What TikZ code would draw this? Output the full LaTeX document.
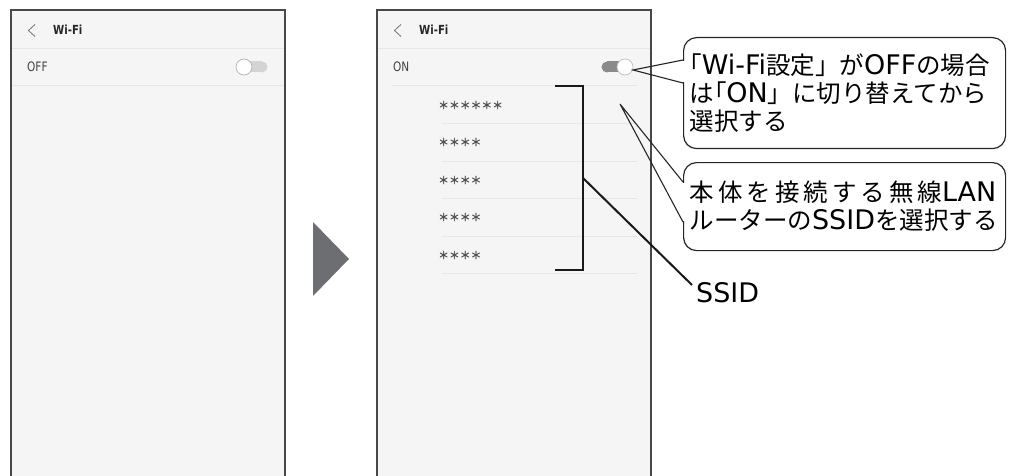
\documentclass[tikz,border=0pt]{standalone}
\usepackage{fontspec}
\usepackage{xcolor}
\usepackage{tikz}
\usetikzlibrary{calc}
\newfontfamily\jpfont{Noto Sans CJK JP}
\newfontfamily\jppfont[CharacterWidth=AlternateProportional]{Noto Sans CJK JP}
\newfontfamily\starfont[FakeBold=1.6]{Noto Sans CJK JP}
\newfontfamily\latfont[Scale=1.1]{DejaVu Sans}
\newfontfamily\uifont[FakeStretch=0.9]{DejaVu Sans Condensed}
\newcommand\lat[1]{{\latfont #1}}
\newcommand\obr{{\jppfont 「}}
\newcommand\jgap{\hspace{4pt}}
\definecolor{screenbg}{RGB}{245,245,245}
\definecolor{screenedge}{RGB}{72,72,72}
\definecolor{rulegr}{RGB}{230,230,230}
\definecolor{arrowgr}{RGB}{109,110,113}
\definecolor{trackoff}{RGB}{212,212,212}
\definecolor{trackon}{RGB}{138,138,138}
\definecolor{stargr}{RGB}{80,80,80}
\tikzset{
  screen/.style={fill=screenbg, draw=screenedge, line width=1.6pt},
  rowrule/.style={draw=rulegr, line width=0.9pt},
  backmark/.style={draw=black!55, line width=0.8pt},
  titlelabel/.style={font=\uifont\bfseries\fontsize{12.5}{14}\selectfont, text=black!85, inner sep=0pt, anchor=west},
  uilabel/.style={font=\uifont\fontsize{13}{15}\selectfont, text=black!75, inner sep=0pt, anchor=west},
  starrow/.style={font=\starfont\fontsize{10.8}{12}\selectfont, text=stargr, inner sep=0pt, anchor=west},
  callout/.style={draw=black!85, fill=white, line width=1.2pt, rounded corners=13pt, anchor=north west,
    font=\jpfont\fontsize{24.5}{28}\selectfont, align=left, inner xsep=6pt},
  pointer/.style={draw=black!85, line width=1.1pt},
  bracketline/.style={draw=black!90, line width=2.6pt},
  leader/.style={draw=black!90, line width=2pt},
}
\begin{document}
\begin{tikzpicture}[x=1pt, y=-1pt]
    \useasboundingbox (0,0) rectangle (1009,476);

    % Screen before
    \fill[screenbg] (11,10) rectangle (285,480);
    \draw[screen, fill=none] (11,480) -- (11,10) -- (285,10) -- (285,480);
    \draw[rowrule] (12,48) -- (284,48);
    \draw[rowrule] (12,85) -- (284,85);
    \draw[backmark] (35,24.5) -- (28.5,30.5) -- (35,36.5);
    \node[titlelabel] (titleoff) at (53,30) {Wi-Fi};
    \node[uilabel] (stateoff) at (27,67) {OFF};
    \fill[trackoff] (243,61.5) rectangle (262,72.5);
    \fill[trackoff] (262,67) circle (5.5);
    \draw[fill=white, draw=black!30, line width=0.7pt] (244,67) circle (8);

    % Step arrow
    \fill[arrowgr] (313,222) -- (349,259) -- (313,296) -- cycle;

    % Screen after
    \fill[screenbg] (377,10) rectangle (651,480);
    \draw[screen, fill=none] (377,480) -- (377,10) -- (651,10) -- (651,480);
    \draw[rowrule] (378,48) -- (650,48);
    \draw[rowrule] (392,85) -- (637,85);
    \foreach \y in {123,161,198,236,273}
      \draw[rowrule] (442,\y) -- (637,\y);
    \draw[backmark] (401,24.5) -- (394.5,30.5) -- (401,36.5);
    \node[titlelabel] (titleon) at (419,30) {Wi-Fi};
    \node[uilabel] (stateon) at (393,67) {ON};
    \fill[trackon] (607,61.5) rectangle (625,72.5);
    \fill[trackon] (607,67) circle (5.5);
    \draw[fill=white, draw=black!25, line width=0.7pt] (625,67) circle (8);
    \coordinate (knob) at (633,70);

    % SSID list
    \node[starrow] (ssid1) at (438,105) {＊＊＊＊＊＊};
    \foreach \y [count=\i from 2] in {142,180,217,255}
      \node[starrow] (ssid\i) at (438,\y) {＊＊＊＊};

    % Bracket
    \draw[bracketline] (555,86) -- (583,86) -- (583,270) -- (555,270);
    \coordinate (brk) at (583,178);

    % Callouts
    \node[callout, minimum width=322pt, minimum height=111pt, text width=310pt] (note1) at (683,37)
      {\obr\lat{Wi-Fi}設定」が\lat{OFF}の場合\\は\obr\lat{ON}」に切り替えてから\\選択する};
    \node[callout, minimum width=322pt, minimum height=88pt, text width=310pt] (note2) at (683,162)
      {本\jgap 体\jgap を\jgap 接\jgap 続\jgap す\jgap る\jgap 無\jgap 線\lat{LAN}\\ルーターの\lat{SSID}を選択する};

    % Pointer wedges
    \coordinate (b1a) at ($(note1.north west)+(0,23)$);
    \coordinate (b1b) at ($(note1.north west)+(0,46)$);
    \fill[white] ($(b1a)+(-1.5,0.8)$) rectangle ($(b1b)+(1.5,-0.8)$);
    \draw[pointer] (b1a) -- (knob) -- (b1b);
    \coordinate (tip2) at (620,104);
    \coordinate (b2a) at ($(note2.north west)+(0,20)$);
    \coordinate (b2b) at ($(note2.north west)+(0,60)$);
    \fill[white] ($(b2a)+(-1.5,0.8)$) rectangle ($(b2b)+(1.5,-0.8)$);
    \draw[pointer] (b2a) -- (tip2) -- (b2b);

    % SSID label
    \node[font=\jpfont\fontsize{24.5}{28}\selectfont, anchor=west, inner sep=0pt] (ssidlbl) at (696,293) {\lat{SSID}};
    \draw[leader] (brk) -- ($(ssidlbl.west)+(-4,-8)$);
\end{tikzpicture}
\end{document}
